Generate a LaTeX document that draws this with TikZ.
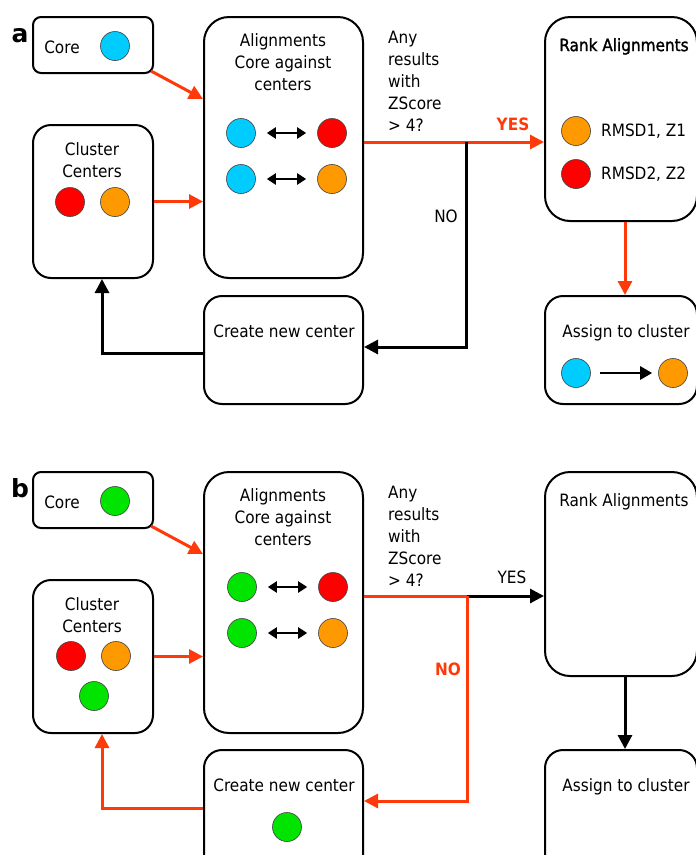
\documentclass[tikz,border=0pt]{standalone}
\usepackage{fontspec}
\setmainfont{DejaVu Sans Condensed}
\newfontfamily\panelfont{DejaVu Sans}
\usetikzlibrary{arrows.meta}

\definecolor{flowred}{HTML}{FF3A0A}
\definecolor{corecyan}{HTML}{00CCFF}
\definecolor{ctrred}{HTML}{FF0000}
\definecolor{ctrorange}{HTML}{FF9900}
\definecolor{newgreen}{HTML}{00E400}

\tikzset{
  box/.style={draw=black, line width=2pt, fill=white, inner sep=0pt},
  dot/.style={circle, draw=black!75, line width=0.6pt, minimum size=29pt, inner sep=0pt},
  txt/.style={inner sep=0pt, align=center},
  flow/.style={line width=3pt, -{Triangle[length=14pt,width=14pt]}},
  redflow/.style={flow, draw=flowred, color=flowred},
  pairarrow/.style={line width=2.4pt, {Triangle[length=9pt,width=11pt]}-{Triangle[length=9pt,width=11pt]}, shorten <=11pt, shorten >=11pt},
  panellabel/.style={inner sep=0pt, anchor=base, font=\panelfont\fontsize{25}{25}\selectfont\bfseries},
  yesno/.style={inner sep=0pt, anchor=base},
}

\begin{document}
\begin{tikzpicture}[x=1pt, y=-1pt, font=\fontsize{17}{22}\selectfont]
\useasboundingbox (0,0) rectangle (696,855);

% ---------------- panel a ----------------
\node[panellabel] (a-lbl) at (20,42) {a};

\node[box, rounded corners=8pt, minimum width=120pt, minimum height=56pt] (a-core) at (93,45) {};
\node[txt, anchor=base] (a-coretxt) at (62,53) {Core};
\node[dot, fill=corecyan] (a-coredot) at (115,46) {};

\node[box, rounded corners=18pt, minimum width=120pt, minimum height=153pt] (a-clus) at (93,201.5) {};
\node[txt, anchor=north] (a-clustxt) at (92,142) {Cluster\\Centers};
\node[dot, fill=ctrred] (a-clr) at (70,202) {};
\node[dot, fill=ctrorange] (a-clo) at (115,202) {};

\node[box, rounded corners=25pt, minimum width=159pt, minimum height=261pt] (a-align) at (283.5,147.5) {};
\node[txt, anchor=north] (a-aligntxt) at (283,33) {Alignments\\Core against\\centers};
\node[dot, fill=corecyan] (a-ac1) at (241,133) {};
\node[dot, fill=ctrred] (a-ar1) at (332,133) {};
\node[dot, fill=corecyan] (a-ac2) at (241,179) {};
\node[dot, fill=ctrorange] (a-ar2) at (332,179) {};
\draw[pairarrow] (a-ac1) -- (a-ar1);
\draw[pairarrow] (a-ac2) -- (a-ar2);

\node[box, rounded corners=18pt, minimum width=159pt, minimum height=108pt] (a-create) at (283.5,350) {};
\node[txt, anchor=base] (a-createtxt) at (284,337) {Create new center};

\node[txt, anchor=north west, align=left] (a-q) at (388,31) {Any\\results\\with\\ZScore\\> 4?};

\node[box, rounded corners=25pt, minimum width=152pt, minimum height=204pt] (a-rank) at (621,119) {};
\node[txt, anchor=north] (a-ranktxt) at (624,38) {\addfontfeatures{FakeBold=1.5}Rank Alignments};
\node[dot, fill=ctrorange] (a-rk1) at (576,131) {};
\node[txt, anchor=west] (a-rk1txt) at (601,131) {RMSD1, Z1};
\node[dot, fill=ctrred] (a-rk2) at (576,174) {};
\node[txt, anchor=west] (a-rk2txt) at (601,174) {RMSD2, Z2};

\node[box, rounded corners=18pt, minimum width=152pt, minimum height=108pt] (a-assign) at (621,350) {};
\node[txt, anchor=base] (a-assigntxt) at (626,337) {Assign to cluster};
\node[dot, fill=corecyan] (a-asc) at (576,373) {};
\node[dot, fill=ctrorange] (a-aso) at (673,373) {};
\draw[line width=2.6pt, -{Triangle[length=12pt,width=13pt]}, shorten <=9pt, shorten >=6pt] (a-asc) -- (a-aso);

% connectors of panel a
\coordinate (a-split) at (466,142);
\draw[redflow] ([xshift=-3pt,yshift=3pt]a-core.south east) -- ([yshift=-83pt]a-align.north west);
\draw[redflow] (a-clus.east) -- (a-align.west |- a-clus.east);
\draw[redflow] (a-align.east |- a-split) -- (a-rank.west |- a-split);
\node[yesno, text=flowred, font=\fontsize{17}{22}\selectfont\bfseries] (a-yes) at (513,130) {YES};
\draw[flow] (a-split) |- ([yshift=3pt]a-create.east);
\node[yesno] (a-no) at (446,222) {NO};
\draw[flow] ([yshift=-3pt]a-create.west) -| ([xshift=9pt]a-clus.south);
\draw[redflow] ([xshift=4pt]a-rank.south) -- ([xshift=4pt]a-assign.north);

% ---------------- panel b ----------------
\node[panellabel] (b-lbl) at (20,497) {b};

\node[box, rounded corners=8pt, minimum width=120pt, minimum height=56pt] (b-core) at (93,500) {};
\node[txt, anchor=base] (b-coretxt) at (62,508) {Core};
\node[dot, fill=newgreen] (b-coredot) at (115,501) {};

\node[box, rounded corners=18pt, minimum width=120pt, minimum height=153pt] (b-clus) at (93,656.5) {};
\node[txt, anchor=north] (b-clustxt) at (92,597) {Cluster\\Centers};
\node[dot, fill=ctrred] (b-clr) at (71,656) {};
\node[dot, fill=ctrorange] (b-clo) at (116,656) {};
\node[dot, fill=newgreen] (b-clg) at (94,696) {};

\node[box, rounded corners=25pt, minimum width=159pt, minimum height=261pt] (b-align) at (283.5,602.5) {};
\node[txt, anchor=north] (b-aligntxt) at (283,488) {Alignments\\Core against\\centers};
\node[dot, fill=newgreen] (b-ac1) at (242,587) {};
\node[dot, fill=ctrred] (b-ar1) at (333,587) {};
\node[dot, fill=newgreen] (b-ac2) at (242,633) {};
\node[dot, fill=ctrorange] (b-ar2) at (333,633) {};
\draw[pairarrow] (b-ac1) -- (b-ar1);
\draw[pairarrow] (b-ac2) -- (b-ar2);

\node[box, rounded corners=18pt, minimum width=159pt, minimum height=130pt] (b-create) at (283.5,815) {};
\node[txt, anchor=base] (b-createtxt) at (284,791) {Create new center};
\node[dot, fill=newgreen] (b-newdot) at (287,827) {};

\node[txt, anchor=north west, align=left] (b-q) at (388,486) {Any\\results\\with\\ZScore\\> 4?};

\node[box, rounded corners=25pt, minimum width=152pt, minimum height=204pt] (b-rank) at (621,574) {};
\node[txt, anchor=north] (b-ranktxt) at (624,493) {Rank Alignments};

\node[box, rounded corners=18pt, minimum width=152pt, minimum height=130pt] (b-assign) at (621,815) {};
\node[txt, anchor=base] (b-assigntxt) at (626,791) {Assign to cluster};

% connectors of panel b
\coordinate (b-split) at (467,596);
\coordinate (b-turn) at (467,801);
\draw[redflow] ([xshift=-3pt,yshift=3pt]b-core.south east) -- ([yshift=-83pt]b-align.north west);
\draw[redflow] (b-clus.east) -- (b-align.west |- b-clus.east);
\draw[line width=3pt, flowred] (b-align.east |- b-split) -- (b-split);
\draw[flow] (b-split) -- (b-rank.west |- b-split);
\node[yesno] (b-yes) at (512,583) {YES};
\draw[redflow] (b-split) -- (b-turn) -- (b-create.east |- b-turn);
\node[yesno, text=flowred, font=\fontsize{17}{22}\selectfont\bfseries] (b-no) at (448,675) {NO};
\draw[redflow] ([yshift=7pt]b-create.west) -| ([xshift=9pt]b-clus.south);
\draw[flow] ([xshift=4pt]b-rank.south) -- ([xshift=4pt]b-assign.north);
\end{tikzpicture}
\end{document}
